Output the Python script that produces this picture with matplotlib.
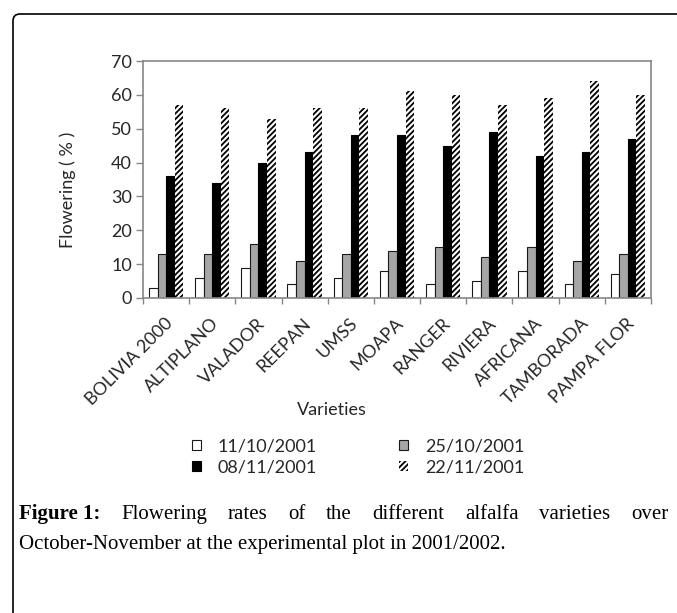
import numpy as np
import matplotlib
matplotlib.use("Agg")
import matplotlib.pyplot as plt
import matplotlib.patches as mpatches
from matplotlib.transforms import IdentityTransform, ScaledTranslation

varieties = ["BOLIVIA 2000", "ALTIPLANO", "VALADOR", "REEPAN", "UMSS", "MOAPA",
             "RANGER", "RIVIERA", "AFRICANA", "TAMBORADA", "PAMPA FLOR"]
dates = ["11/10/2001", "25/10/2001", "08/11/2001", "22/11/2001"]
d_11_10 = [3, 6, 9, 4, 6, 8, 4, 5, 8, 4, 7]
d_25_10 = [13, 13, 16, 11, 13, 14, 15, 12, 15, 11, 13]
d_08_11 = [36, 34, 40, 43, 48, 48, 45, 49, 42, 43, 47]
d_22_11 = [57, 56, 53, 56, 56, 61, 60, 57, 59, 64, 60]
yticks = [0, 10, 20, 30, 40, 50, 60, 70]

caption_bold = "Figure 1:"
caption_line1 = "Flowering rates of the different alfalfa varieties over"
caption_line2 = "October-November at the experimental plot in 2001/2002."

W, H = 677, 613
plt.rcParams['font.family'] = ['Lato', 'DejaVu Sans']
plt.rcParams['hatch.linewidth'] = 1.3
txt = '#262626'
axc = '#868686'
fs = 13

fig = plt.figure(figsize=(W / 100, H / 100), dpi=100)
ax = fig.add_axes([143 / W, 1 - 298 / H, (651 - 143) / W, (298 - 61) / H])

x = np.arange(len(varieties))
w = 0.186
styles = [
    dict(color='white', edgecolor='#1a1a1a', linewidth=0.8),
    dict(color='#a6a6a6', edgecolor='#1a1a1a', linewidth=0.8),
    dict(color='black', edgecolor='black', linewidth=0.8),
    dict(color='white', edgecolor='black', linewidth=0, hatch='//////'),
]
series = [d_11_10, d_25_10, d_08_11, d_22_11]
handles = []
for i, (vals, st) in enumerate(zip(series, styles)):
    b = ax.bar(x + (i - 1.5) * w, vals, w, label=dates[i], **st)
    handles.append(b)

ax.set_xlim(-0.5, len(varieties) - 0.5)
ax.set_ylim(0, 70)
ax.set_yticks(yticks)
ax.tick_params(axis='y', length=5, width=1, color=axc, labelsize=fs, labelcolor=txt, pad=3)

ax.set_xticks(x)
ax.set_xticks(np.arange(-0.5, len(varieties), 1), minor=True)
ax.tick_params(axis='x', which='major', length=0, pad=16.5, labelsize=fs, labelcolor=txt)
ax.tick_params(axis='x', which='minor', length=4.5, width=1, color=axc)
ax.set_xticklabels(varieties, rotation=45, ha='right', va='center', rotation_mode='anchor')
for lab in ax.get_xticklabels():
    lab.set_transform(lab.get_transform() + ScaledTranslation(4 / 100, 0, fig.dpi_scale_trans))

for s in ax.spines.values():
    s.set_color(axc)
    s.set_linewidth(1.2)

fig.text(68 / W, 1 - 190 / H, "Flowering ( % )", rotation=90, ha='center', va='center',
         fontsize=fs, color=txt)
fig.text(332 / W, 1 - 410 / H, "Varieties", ha='center', va='center', fontsize=fs, color=txt)

order = [handles[0], handles[2], handles[1], handles[3]]
fig.legend(order, [h.get_label() for h in order], ncol=2, loc='center',
           bbox_to_anchor=(358 / W, 1 - 457 / H), frameon=False, fontsize=fs,
           handlelength=0.5, handleheight=0.5, handletextpad=0.9, columnspacing=4.6,
           labelspacing=0.3, labelcolor=txt)

# outer frame with rounded corner
frame = mpatches.FancyBboxPatch((13, -30), 720, H - 14 + 30,
                                boxstyle="round,pad=0,rounding_size=7",
                                transform=IdentityTransform(), fill=False,
                                edgecolor='black', linewidth=1.2)
fig.patches.append(frame)

# caption, first line justified
fig.canvas.draw()
r = fig.canvas.get_renderer()
cfont = dict(family=['Liberation Serif', 'DejaVu Serif'], fontsize=15, color='black')
x0, x1 = 19, 668
y1, y2 = 1 - 519 / H, 1 - 549 / H
parts = [fig.text(0, y1, caption_bold, fontweight='bold', va='baseline', **cfont)]
for word in caption_line1.split():
    parts.append(fig.text(0, y1, word, va='baseline', **cfont))
widths = [p.get_window_extent(r).width for p in parts]
gap = (x1 - x0 - sum(widths)) / (len(parts) - 1)
pos = x0
for p, wd in zip(parts, widths):
    p.set_x(pos / W)
    pos += wd + gap
fig.text(x0 / W, y2, caption_line2, va='baseline', **cfont)

fig.savefig("out.png", dpi=100)
